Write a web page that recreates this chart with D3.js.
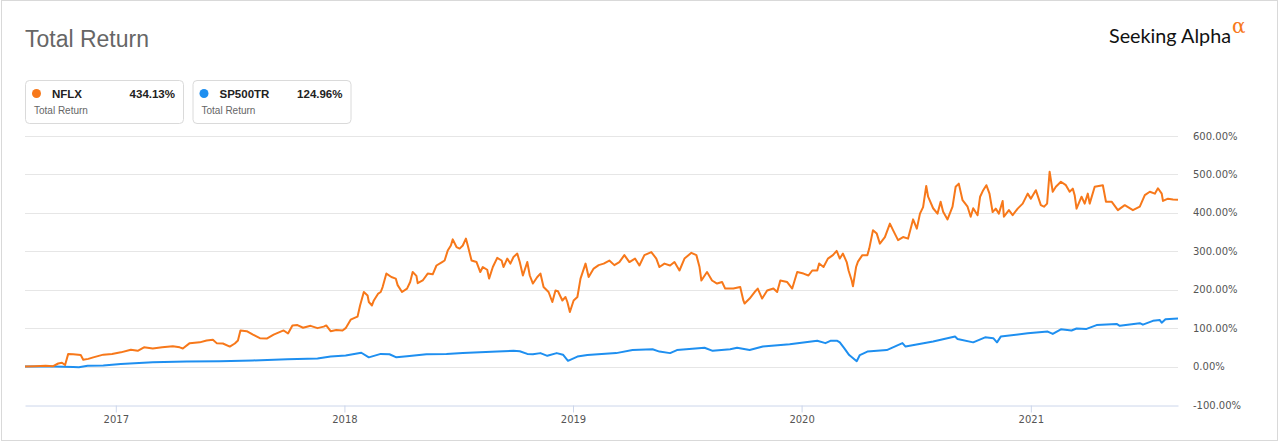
<!DOCTYPE html>
<html>
<head>
<meta charset="utf-8">
<script src="https://cdn.jsdelivr.net/npm/d3@7"></script>
<style>
  html, body { margin: 0; padding: 0; background: #fff; }
  svg { display: block; }
</style>
</head>
<body>
<script>
// ---------------- DATA ----------------
const chartTitle = "Total Return";
const seriesNames = ["NFLX", "SP500TR"];
const seriesLabels = ["Total Return", "Total Return"];
const seriesLastValues = ["434.13%", "124.96%"];
const seriesColors = ["#f7781a", "#1e8ff0"];
const yTicks = [-100, 0, 100, 200, 300, 400, 500, 600];
const xTickYears = ["2017", "2018", "2019", "2020", "2021"];
const dateRange = ["2016-08-09", "2021-08-24"];

const nflxDates = [
"2016-08-09","2016-08-25","2016-09-11","2016-09-23","2016-10-01","2016-10-07","2016-10-12","2016-10-17","2016-10-25","2016-11-06",
"2016-11-10","2016-11-18","2016-11-26","2016-12-12","2016-12-26","2017-01-09","2017-01-25","2017-02-05","2017-02-15","2017-03-01",
"2017-03-16","2017-04-02","2017-04-13","2017-04-18","2017-04-29","2017-05-15","2017-05-26","2017-06-05","2017-06-11","2017-06-21",
"2017-07-02","2017-07-10","2017-07-15","2017-07-19","2017-07-29","2017-08-08","2017-08-19","2017-08-30","2017-09-10","2017-09-26",
"2017-10-03","2017-10-10","2017-10-18","2017-10-27","2017-11-08","2017-11-19","2017-11-29","2017-12-03","2017-12-10","2017-12-19",
"2017-12-29","2018-01-03","2018-01-11","2018-01-19","2018-01-22","2018-01-26","2018-02-01","2018-02-07","2018-02-09","2018-02-14",
"2018-02-17","2018-02-24","2018-02-28","2018-03-03","2018-03-09","2018-03-17","2018-03-24","2018-03-27","2018-04-03","2018-04-11",
"2018-04-16","2018-04-20","2018-04-26","2018-04-28","2018-05-06","2018-05-14","2018-05-22","2018-05-28","2018-06-06","2018-06-10",
"2018-06-15","2018-06-20","2018-06-23","2018-06-29","2018-07-04","2018-07-09","2018-07-14","2018-07-17","2018-07-23","2018-07-31",
"2018-08-06","2018-08-10","2018-08-17","2018-08-20","2018-08-26","2018-09-02","2018-09-09","2018-09-12","2018-09-18","2018-09-23",
"2018-09-28","2018-10-04","2018-10-08","2018-10-13","2018-10-20","2018-10-24","2018-10-29","2018-11-05","2018-11-10","2018-11-15",
"2018-11-23","2018-11-29","2018-12-04","2018-12-08","2018-12-15","2018-12-20","2018-12-23","2018-12-27","2019-01-02","2019-01-08",
"2019-01-13","2019-01-21","2019-01-26","2019-02-03","2019-02-11","2019-02-19","2019-02-28","2019-03-08","2019-03-16","2019-03-24",
"2019-04-01","2019-04-10","2019-04-17","2019-04-25","2019-05-06","2019-05-14","2019-05-19","2019-05-27","2019-06-05","2019-06-12",
"2019-06-20","2019-06-28","2019-07-09","2019-07-17","2019-07-22","2019-07-25","2019-08-03","2019-08-11","2019-08-19","2019-08-27",
"2019-09-01","2019-09-14","2019-09-25","2019-09-30","2019-10-02","2019-10-10","2019-10-18","2019-10-23","2019-10-30","2019-11-07",
"2019-11-17","2019-11-23","2019-11-28","2019-12-09","2019-12-17","2019-12-25","2020-01-04","2020-01-12","2020-01-18","2020-01-26",
"2020-01-29","2020-02-05","2020-02-12","2020-02-20","2020-02-26","2020-03-02","2020-03-07","2020-03-13","2020-03-16","2020-03-21",
"2020-03-23","2020-03-28","2020-03-31","2020-04-07","2020-04-15","2020-04-18","2020-04-24","2020-04-30","2020-05-05","2020-05-13",
"2020-05-21","2020-05-26","2020-06-03","2020-06-11","2020-06-19","2020-06-27","2020-07-03","2020-07-08","2020-07-13","2020-07-18",
"2020-07-21","2020-07-29","2020-08-05","2020-08-10","2020-08-14","2020-08-21","2020-08-29","2020-09-03","2020-09-08","2020-09-14",
"2020-09-22","2020-09-27","2020-10-01","2020-10-08","2020-10-12","2020-10-17","2020-10-22","2020-10-27","2020-11-01","2020-11-06",
"2020-11-11","2020-11-17","2020-11-19","2020-11-27","2020-12-03","2020-12-11","2020-12-19","2020-12-27","2021-01-01","2021-01-09",
"2021-01-17","2021-01-22","2021-01-27","2021-01-31","2021-02-05","2021-02-10","2021-02-18","2021-02-26","2021-03-04","2021-03-09",
"2021-03-12","2021-03-15","2021-03-23","2021-03-28","2021-04-02","2021-04-05","2021-04-13","2021-04-26","2021-05-01","2021-05-10",
"2021-05-20","2021-05-31","2021-06-13","2021-06-24","2021-07-02","2021-07-10","2021-07-18","2021-07-23","2021-07-29","2021-07-31",
"2021-08-08","2021-08-16","2021-08-24"
];
const nflxReturns = [
0,1,2,1,8,10,4,33,32,30,
18,20,24,31,33,37,44,41,50,47,
50,53,50,47,61,63,68,70,61,60,
52,60,68,94,92,83,74,73,83,94,
86,107,108,101,106,100,104,107,92,95,
94,100,122,128,130,159,194,185,168,159,
172,190,194,207,242,233,229,212,194,203,
220,246,236,217,224,242,240,263,272,276,
302,315,331,311,307,315,333,315,276,272,
246,259,252,229,259,283,276,259,281,268,
285,294,272,237,272,237,216,233,242,207,
194,168,198,196,172,181,168,142,172,181,
229,268,233,255,264,268,276,264,272,290,
272,281,263,290,298,281,259,268,263,272,
250,281,296,290,259,224,246,224,216,220,
203,203,207,172,164,177,194,203,177,198,
203,194,224,220,203,246,242,237,250,250,
268,259,281,290,301,281,294,272,250,224,
209,259,273,290,290,307,355,346,320,337,
372,355,329,337,333,383,359,398,415,470,
442,412,398,429,403,383,416,468,476,433,
416,390,412,394,442,459,472,450,402,411,
398,431,390,407,394,411,424,450,437,459,
420,416,424,507,455,468,481,472,455,463,
446,411,442,424,450,424,468,472,429,429,
407,420,407,416,446,455,450,464,450,431,
437,435,434.13
];

const spxDates = [
"2016-08-09","2016-09-23","2016-10-25","2016-11-03","2016-11-17","2016-12-12","2017-01-09","2017-03-01","2017-04-24","2017-06-16",
"2017-08-08","2017-10-02","2017-11-19","2017-12-10","2018-01-03","2018-01-28","2018-02-09","2018-02-28","2018-03-14","2018-03-25",
"2018-04-11","2018-05-12","2018-06-13","2018-07-09","2018-09-02","2018-09-28","2018-10-08","2018-10-20","2018-10-29","2018-11-10",
"2018-11-21","2018-12-06","2018-12-16","2018-12-24","2019-01-08","2019-01-24","2019-02-10","2019-03-11","2019-04-06","2019-05-08",
"2019-05-19","2019-06-05","2019-06-16","2019-07-30","2019-08-12","2019-09-09","2019-09-20","2019-10-10","2019-10-31","2019-12-13",
"2020-01-26","2020-02-08","2020-02-16","2020-02-27","2020-03-02","2020-03-09","2020-03-17","2020-03-29","2020-04-03","2020-04-15",
"2020-05-16","2020-06-10","2020-06-15","2020-07-29","2020-09-02","2020-09-06","2020-10-01","2020-10-20","2020-11-02","2020-11-08",
"2020-11-14","2020-12-27","2021-01-28","2021-02-05","2021-02-18","2021-03-07","2021-03-15","2021-03-31","2021-04-16","2021-05-18",
"2021-05-23","2021-06-24","2021-06-29","2021-07-15","2021-07-26","2021-07-29","2021-08-04","2021-08-24"
];
const spxReturns = [
0,0,-1,-2,2,3,7,11,13,14,
16,19,21,26,29,36,24,33,32,24,
27,32,33,35,39,41,40,33,32,35,
28,35,31,15,26,30,32,35,43,45,
39,35,43,49,41,45,49,43,52,58,
67,61,67,67,63,48,30,14,30,39,
43,61,52,65,78,72,63,76,74,63,
78,87,91,85,97,94,99,98,108,111,
106,113,109,119,121,114,123,124.96
];

// ---------------- LAYOUT ----------------
const W = 1280, H = 442;
const plot = { left: 25, right: 1178, top: 136, bottom: 405 };
const parse = d3.timeParse("%Y-%m-%d");

const svg = d3.select("body").append("svg")
  .attr("width", W).attr("height", H)
  .attr("font-family", "'Liberation Sans', Arial, sans-serif");

// outer frame
svg.append("rect")
  .attr("x", 1.5).attr("y", 0.5)
  .attr("width", 1276).attr("height", 440)
  .attr("fill", "#fff").attr("stroke", "#d9d9d9");

// title
svg.append("text")
  .attr("x", 25).attr("y", 47)
  .attr("font-size", 23).attr("fill", "#666")
  .text(chartTitle);

// logo
const logo = svg.append("g");
logo.append("text")
  .attr("x", 1109).attr("y", 43)
  .attr("font-family", "Lato, 'Open Sans', sans-serif")
  .attr("font-weight", 400)
  .attr("font-size", 20).attr("fill", "#111")
  .attr("textLength", 122).attr("lengthAdjust", "spacingAndGlyphs")
  .text("Seeking Alpha");
logo.append("text")
  .attr("x", 1232).attr("y", 33)
  .attr("font-family", "'DejaVu Serif', serif")
  .attr("font-size", 20).attr("fill", "#f7781a")
  .text("α");

// legend
const legend = svg.append("g");
seriesNames.forEach((name, i) => {
  const g = legend.append("g").attr("transform", `translate(${25 + i * 167.5},80)`);
  g.append("rect")
    .attr("x", 0.5).attr("y", 0.5).attr("width", 158).attr("height", 43)
    .attr("rx", 4).attr("fill", "#fff").attr("stroke", "#dadada");
  g.append("circle").attr("cx", 11.5).attr("cy", 13.5).attr("r", 4.5).attr("fill", seriesColors[i]);
  g.append("text").attr("x", 27).attr("y", 17.5)
    .attr("font-size", 11.5).attr("font-weight", "bold").attr("fill", "#222").text(name);
  g.append("text").attr("x", 150).attr("y", 17.5).attr("text-anchor", "end")
    .attr("font-size", 11.5).attr("font-weight", "bold").attr("fill", "#222").text(seriesLastValues[i]);
  g.append("text").attr("x", 9).attr("y", 33.5)
    .attr("font-size", 10).attr("fill", "#666").text(seriesLabels[i]);
});

// scales
const x = d3.scaleTime().domain(dateRange.map(parse)).range([plot.left, plot.right]);
const y = d3.scaleLinear().domain([-100, 600]).range([plot.bottom, plot.top]);

// grid
svg.append("g").selectAll("line")
  .data(yTicks.filter(v => v !== -100))
  .join("line")
  .attr("x1", plot.left).attr("x2", plot.right)
  .attr("y1", d => Math.round(y(d)) + 0.5).attr("y2", d => Math.round(y(d)) + 0.5)
  .attr("stroke", "#e6e6e6").attr("stroke-width", 1);

// y labels
svg.append("g").selectAll("text")
  .data(yTicks)
  .join("text")
  .attr("x", 1193).attr("y", d => y(d)).attr("dy", "0.35em")
  .attr("font-family", "'DejaVu Sans', Verdana, sans-serif")
  .attr("font-size", 10).attr("fill", "#555")
  .text(d => d.toFixed(2) + "%");

// x axis
const xAxis = d3.axisBottom(x)
  .tickValues(xTickYears.map(s => parse(s + "-01-01")))
  .tickFormat(d3.timeFormat("%Y"))
  .tickSize(7).tickSizeOuter(0);
const xg = svg.append("g").attr("transform", `translate(0,${Math.round(plot.bottom) + 0.5})`).call(xAxis);
xg.select(".domain").attr("stroke", "#ccd6eb");
xg.selectAll(".tick line").attr("stroke", "#ccd6eb");
xg.selectAll(".tick text")
  .attr("font-family", "'DejaVu Sans', Verdana, sans-serif")
  .attr("font-size", 10).attr("fill", "#555");

// lines
const line = d3.line().x(d => x(d.date)).y(d => y(d.value)).curve(d3.curveLinear);
const nflx = nflxDates.map((d, i) => ({ date: parse(d), value: nflxReturns[i] }));
const spx = spxDates.map((d, i) => ({ date: parse(d), value: spxReturns[i] }));

svg.append("path").datum(spx).attr("d", line)
  .attr("fill", "none").attr("stroke", seriesColors[1]).attr("stroke-width", 2)
  .attr("stroke-linejoin", "round");
svg.append("path").datum(nflx).attr("d", line)
  .attr("fill", "none").attr("stroke", seriesColors[0]).attr("stroke-width", 2)
  .attr("stroke-linejoin", "round");
</script>
</body>
</html>
